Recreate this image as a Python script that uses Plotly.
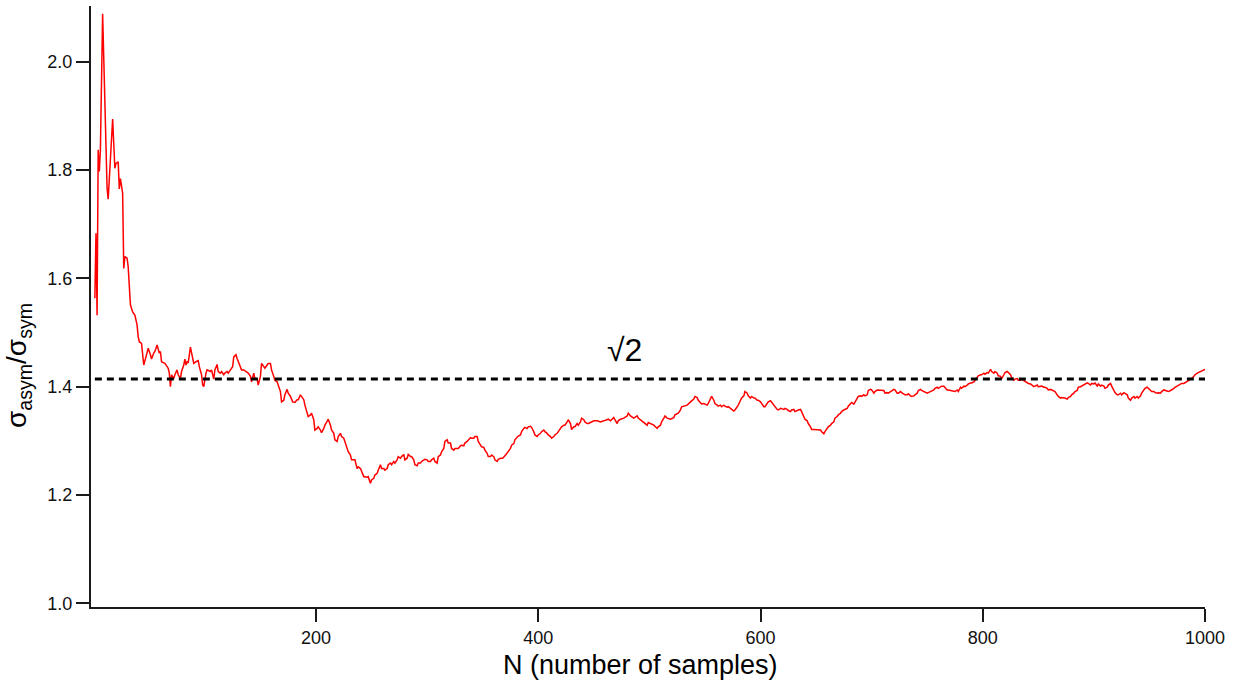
import plotly.graph_objects as go

# Sample index N and running ratio sigma_asym / sigma_sym
n_samples = [
    1, 2, 3, 4, 5, 6, 8, 12, 13, 15, 17, 19, 20, 22, 23, 24, 25, 26, 27, 28, 30, 31, 33, 35, 37, 39, 40,
    41, 43, 45, 47, 49, 51, 52, 54, 55, 57, 59, 60, 61, 63, 64, 66, 67, 68, 69, 70, 72, 73, 75, 76, 78, 79,
    81, 82, 83, 84, 85, 87, 89, 90, 92, 94, 95, 97, 98, 99, 101, 102, 105, 106, 108, 109, 111, 112, 114,
    115, 117, 118, 120, 121, 123, 125, 126, 128, 129, 132, 133, 135, 137, 139, 141, 142, 144, 145, 147,
    148, 150, 151, 153, 154, 156, 157, 159, 160, 162, 163, 165, 166, 168, 169, 171, 172, 174, 175, 177,
    179, 181, 183, 184, 186, 187, 189, 190, 192, 193, 195, 196, 198, 199, 201, 202, 204, 205, 207, 208,
    210, 211, 213, 214, 216, 217, 219, 220, 222, 223, 225, 226, 228, 229, 231, 232, 234, 235, 237, 238,
    240, 241, 243, 244, 246, 247, 249, 250, 252, 253, 255, 256, 258, 259, 261, 262, 264, 265, 267, 268,
    270, 271, 273, 274, 276, 277, 279, 280, 282, 283, 285, 286, 288, 289, 291, 292, 294, 295, 297, 298,
    300, 301, 303, 304, 306, 307, 309, 310, 312, 313, 315, 316, 318, 319, 321, 322, 324, 325, 327, 328,
    330, 331, 333, 334, 336, 337, 339, 340, 342, 343, 345, 346, 348, 349, 351, 352, 354, 355, 357, 358,
    360, 361, 363, 364, 366, 368, 371, 373, 375, 376, 378, 379, 381, 382, 384, 385, 387, 388, 390, 391,
    393, 394, 396, 397, 399, 400, 402, 403, 405, 406, 408, 409, 411, 412, 414, 415, 417, 418, 420, 421,
    423, 424, 426, 427, 429, 430, 432, 433, 435, 436, 438, 439, 441, 442, 444, 445, 447, 448, 450, 453,
    456, 459, 462, 463, 465, 466, 468, 469, 471, 472, 474, 477, 480, 481, 483, 486, 489, 490, 492, 495,
    498, 499, 501, 504, 507, 508, 510, 511, 513, 514, 516, 519, 522, 523, 526, 528, 529, 532, 534, 537,
    540, 541, 543, 544, 546, 547, 549, 550, 552, 553, 555, 556, 558, 559, 561, 562, 564, 565, 567, 568,
    570, 571, 573, 574, 576, 577, 579, 580, 582, 583, 585, 586, 588, 589, 591, 592, 594, 595, 597, 598,
    600, 601, 603, 604, 606, 607, 609, 610, 612, 613, 615, 616, 618, 621, 622, 624, 625, 627, 628, 630,
    631, 634, 636, 637, 639, 640, 642, 643, 645, 646, 648, 651, 654, 655, 657, 658, 660, 661, 663, 664,
    666, 667, 669, 670, 672, 673, 675, 676, 678, 679, 681, 682, 684, 685, 687, 688, 690, 691, 693, 694,
    696, 697, 699, 700, 702, 703, 705, 708, 711, 712, 714, 715, 717, 718, 720, 721, 723, 724, 726, 727,
    729, 730, 732, 733, 735, 736, 738, 739, 741, 742, 744, 745, 747, 748, 750, 751, 753, 754, 756, 757,
    759, 760, 762, 763, 765, 766, 768, 769, 771, 774, 775, 777, 778, 780, 781, 783, 784, 786, 787, 789,
    790, 792, 793, 795, 796, 798, 799, 801, 802, 804, 805, 807, 808, 810, 811, 813, 814, 816, 817, 819,
    820, 822, 823, 825, 826, 828, 829, 831, 832, 834, 835, 837, 838, 840, 841, 843, 844, 846, 847, 849,
    850, 852, 853, 855, 856, 858, 859, 861, 862, 864, 865, 867, 868, 870, 871, 873, 874, 876, 877, 879,
    880, 882, 883, 885, 886, 888, 889, 891, 892, 894, 895, 897, 898, 900, 901, 903, 904, 906, 907, 909,
    910, 912, 913, 915, 916, 918, 919, 921, 922, 924, 925, 927, 928, 930, 931, 933, 934, 936, 937, 939,
    940, 942, 943, 945, 946, 948, 949, 951, 952, 954, 955, 957, 958, 960, 961, 963, 964, 966, 967, 969,
    970, 972, 973, 975, 976, 978, 979, 981, 982, 984, 985, 987, 988, 990, 991, 993, 994, 996, 997, 999,
    1000,
]

sigma_ratio = [
    1.563, 1.683, 1.532, 1.837, 1.797, 1.837, 2.088, 1.766, 1.746, 1.812, 1.894, 1.803, 1.812, 1.815,
    1.765, 1.784, 1.764, 1.757, 1.618, 1.640, 1.637, 1.621, 1.551, 1.538, 1.532, 1.514, 1.492,
    1.483, 1.480, 1.440, 1.455, 1.471, 1.459, 1.451, 1.462, 1.465, 1.477, 1.462, 1.465, 1.446, 1.444,
    1.443, 1.437, 1.434, 1.425, 1.400, 1.422, 1.415, 1.422, 1.431, 1.422, 1.415, 1.428,
    1.440, 1.451, 1.440, 1.446, 1.444, 1.473, 1.451, 1.443, 1.446, 1.448, 1.437, 1.422, 1.403, 1.400,
    1.425, 1.431, 1.428, 1.431, 1.414, 1.431, 1.441, 1.428, 1.425,
    1.428, 1.422, 1.425, 1.428, 1.425, 1.431, 1.437, 1.455, 1.459, 1.452, 1.434, 1.431, 1.431, 1.428,
    1.425, 1.419, 1.409, 1.425, 1.415, 1.414,
    1.403, 1.419, 1.443, 1.437, 1.434, 1.440, 1.443, 1.443, 1.431, 1.419, 1.412, 1.409, 1.403, 1.391,
    1.372, 1.375, 1.385, 1.395, 1.388, 1.382,
    1.372, 1.371, 1.376, 1.376, 1.385, 1.382, 1.376, 1.366, 1.354, 1.345, 1.348, 1.351, 1.339, 1.320,
    1.323, 1.326, 1.320, 1.315, 1.323, 1.329,
    1.336, 1.340, 1.329, 1.320, 1.314, 1.302, 1.299, 1.308, 1.314, 1.308, 1.305, 1.299, 1.286, 1.280,
    1.274, 1.265, 1.265, 1.265, 1.249, 1.252,
    1.249, 1.243, 1.234, 1.234, 1.233, 1.234, 1.222, 1.228, 1.231, 1.237, 1.240, 1.246, 1.256, 1.249,
    1.249, 1.246, 1.249, 1.256, 1.259, 1.256,
    1.262, 1.259, 1.265, 1.271, 1.268, 1.271, 1.275, 1.265, 1.268, 1.275, 1.271, 1.271, 1.265, 1.256,
    1.254, 1.259, 1.259, 1.262, 1.265, 1.266,
    1.265, 1.262, 1.262, 1.265, 1.268, 1.262, 1.259, 1.271, 1.274, 1.280, 1.286, 1.299, 1.302, 1.296,
    1.296, 1.286, 1.283, 1.286, 1.286, 1.286,
    1.291, 1.292, 1.291, 1.296, 1.299, 1.302, 1.306, 1.305, 1.305, 1.308, 1.308, 1.299, 1.292, 1.289,
    1.288, 1.283, 1.277, 1.271, 1.271, 1.274,
    1.271, 1.265, 1.262, 1.266, 1.268, 1.268, 1.275, 1.280, 1.286, 1.292, 1.295, 1.302, 1.308, 1.309,
    1.311, 1.317, 1.323, 1.325, 1.323, 1.326,
    1.327, 1.325, 1.317, 1.311, 1.308, 1.311, 1.314, 1.317, 1.320, 1.317, 1.314, 1.311, 1.308, 1.305,
    1.308, 1.311, 1.314, 1.317, 1.321, 1.326,
    1.329, 1.329, 1.335, 1.339, 1.332, 1.321, 1.326, 1.326, 1.332, 1.329, 1.335, 1.342, 1.339, 1.335,
    1.332, 1.332, 1.334, 1.335, 1.337, 1.337,
    1.335, 1.337, 1.339, 1.340, 1.337, 1.339, 1.343, 1.339, 1.332, 1.337, 1.340, 1.342, 1.346, 1.351,
    1.346, 1.342, 1.346, 1.342, 1.339, 1.335,
    1.329, 1.334, 1.332, 1.329, 1.323, 1.326, 1.329, 1.335, 1.342, 1.346, 1.342, 1.340, 1.343, 1.348,
    1.351, 1.357, 1.363, 1.364, 1.366, 1.372,
    1.377, 1.382, 1.380, 1.375, 1.369, 1.368, 1.369, 1.368, 1.366, 1.369, 1.379, 1.382, 1.375, 1.369,
    1.366, 1.364, 1.366, 1.363, 1.366, 1.364,
    1.362, 1.363, 1.360, 1.358, 1.355, 1.357, 1.362, 1.366, 1.375, 1.379, 1.383, 1.391, 1.388, 1.383,
    1.379, 1.382, 1.379, 1.379, 1.375, 1.375,
    1.372, 1.369, 1.363, 1.363, 1.369, 1.372, 1.374, 1.371, 1.366, 1.363, 1.358, 1.357, 1.360, 1.358,
    1.360, 1.358, 1.356, 1.354, 1.357, 1.358,
    1.354, 1.357, 1.358, 1.354, 1.343, 1.340, 1.337, 1.332, 1.326, 1.321, 1.321, 1.320, 1.320, 1.317,
    1.313, 1.317, 1.323, 1.326, 1.329, 1.332,
    1.335, 1.342, 1.345, 1.348, 1.351, 1.354, 1.357, 1.358, 1.360, 1.364, 1.369, 1.371, 1.368, 1.372,
    1.379, 1.382, 1.383, 1.382, 1.385, 1.383,
    1.385, 1.393, 1.395, 1.394, 1.388, 1.391, 1.394, 1.394, 1.393, 1.388, 1.389, 1.388, 1.391, 1.393,
    1.395, 1.394, 1.388, 1.388, 1.391, 1.389,
    1.387, 1.385, 1.385, 1.387, 1.383, 1.382, 1.383, 1.385, 1.388, 1.393, 1.395, 1.393, 1.391, 1.389,
    1.388, 1.389, 1.391, 1.393, 1.394, 1.397,
    1.399, 1.397, 1.399, 1.401, 1.401, 1.399, 1.394, 1.394, 1.393, 1.391, 1.391, 1.394, 1.391, 1.399,
    1.397, 1.401, 1.400, 1.403, 1.405, 1.407,
    1.407, 1.409, 1.412, 1.419, 1.420, 1.422, 1.422, 1.425, 1.423, 1.426, 1.425, 1.432, 1.428, 1.425,
    1.428, 1.425, 1.420, 1.419, 1.415, 1.422,
    1.426, 1.428, 1.426, 1.422, 1.417, 1.412, 1.414, 1.415, 1.412, 1.412, 1.414, 1.411, 1.409, 1.407,
    1.406, 1.405, 1.403, 1.400, 1.401, 1.403,
    1.400, 1.401, 1.401, 1.399, 1.399, 1.397, 1.394, 1.395, 1.394, 1.393, 1.391, 1.385, 1.382, 1.379,
    1.380, 1.379, 1.379, 1.377, 1.380, 1.382,
    1.385, 1.388, 1.391, 1.393, 1.399, 1.400, 1.401, 1.403, 1.405, 1.407, 1.406, 1.403, 1.406, 1.405,
    1.407, 1.401, 1.405, 1.401, 1.403, 1.401,
    1.397, 1.399, 1.403, 1.406, 1.401, 1.394, 1.389, 1.385, 1.385, 1.388, 1.385, 1.389, 1.388, 1.385,
    1.379, 1.375, 1.379, 1.382, 1.379, 1.382,
    1.379, 1.383, 1.388, 1.394, 1.397, 1.399, 1.397, 1.394, 1.391, 1.391, 1.389, 1.388, 1.389, 1.388,
    1.391, 1.394, 1.393, 1.391, 1.391, 1.393,
    1.394, 1.397, 1.399, 1.401, 1.403, 1.405, 1.406, 1.406, 1.407, 1.409, 1.411, 1.414, 1.415, 1.419,
    1.422, 1.425, 1.426, 1.428, 1.428, 1.431,
    1.432,
]

# Reference level sqrt(2) and its span
ref_level = 2 ** 0.5
ref_span = [1, 1000]

x_ticks = [200, 400, 600, 800, 1000]
y_ticks = [1.0, 1.2, 1.4, 1.6, 1.8, 2.0]

FONT = "Liberation Sans, Arial, sans-serif"
AXIS_COLOR = "#1a1a1a"

fig = go.Figure()

fig.add_trace(go.Scatter(
    x=n_samples, y=sigma_ratio, mode="lines",
    line=dict(color="#ff0000", width=1.5),
    showlegend=False, hoverinfo="skip",
))

fig.add_trace(go.Scatter(
    x=ref_span, y=[ref_level, ref_level], mode="lines",
    line=dict(color="black", width=3, dash="7px,5px"),
    showlegend=False, hoverinfo="skip",
))

axis_common = dict(
    showgrid=False, zeroline=False, showline=True,
    linecolor=AXIS_COLOR, linewidth=2,
    ticks="outside", ticklen=13, tickwidth=1.5, tickcolor=AXIS_COLOR,
    tickfont=dict(family=FONT, size=18, color="#111111"),
)

fig.update_layout(
    width=1238, height=681,
    margin=dict(l=91, r=33, t=6, b=74),
    paper_bgcolor="white", plot_bgcolor="white",
    xaxis=dict(range=[-2.47, 1000], tickvals=x_ticks,
               ticktext=[str(v) for v in x_ticks], **axis_common),
    yaxis=dict(range=[0.9935, 2.1024], tickvals=y_ticks,
               ticktext=[f"{v:.1f}" for v in y_ticks], **axis_common),
    annotations=[
        dict(text="√2", x=478, y=1.468, xref="x", yref="y",
             showarrow=False, xanchor="center", yanchor="middle",
             font=dict(family=FONT, size=32, color="black")),
        dict(text="N (number of samples)", x=0.4937, y=-0.0965,
             xref="paper", yref="paper", showarrow=False,
             xanchor="center", yanchor="middle",
             font=dict(family=FONT, size=27, color="black")),
        dict(text="σ<sub>asym</sub>/σ<sub>sym</sub>", x=-0.0646, y=0.401,
             xref="paper", yref="paper", showarrow=False, textangle=-90,
             xanchor="center", yanchor="middle",
             font=dict(family=FONT, size=28, color="black")),
    ],
)

fig.write_html("out.html")
